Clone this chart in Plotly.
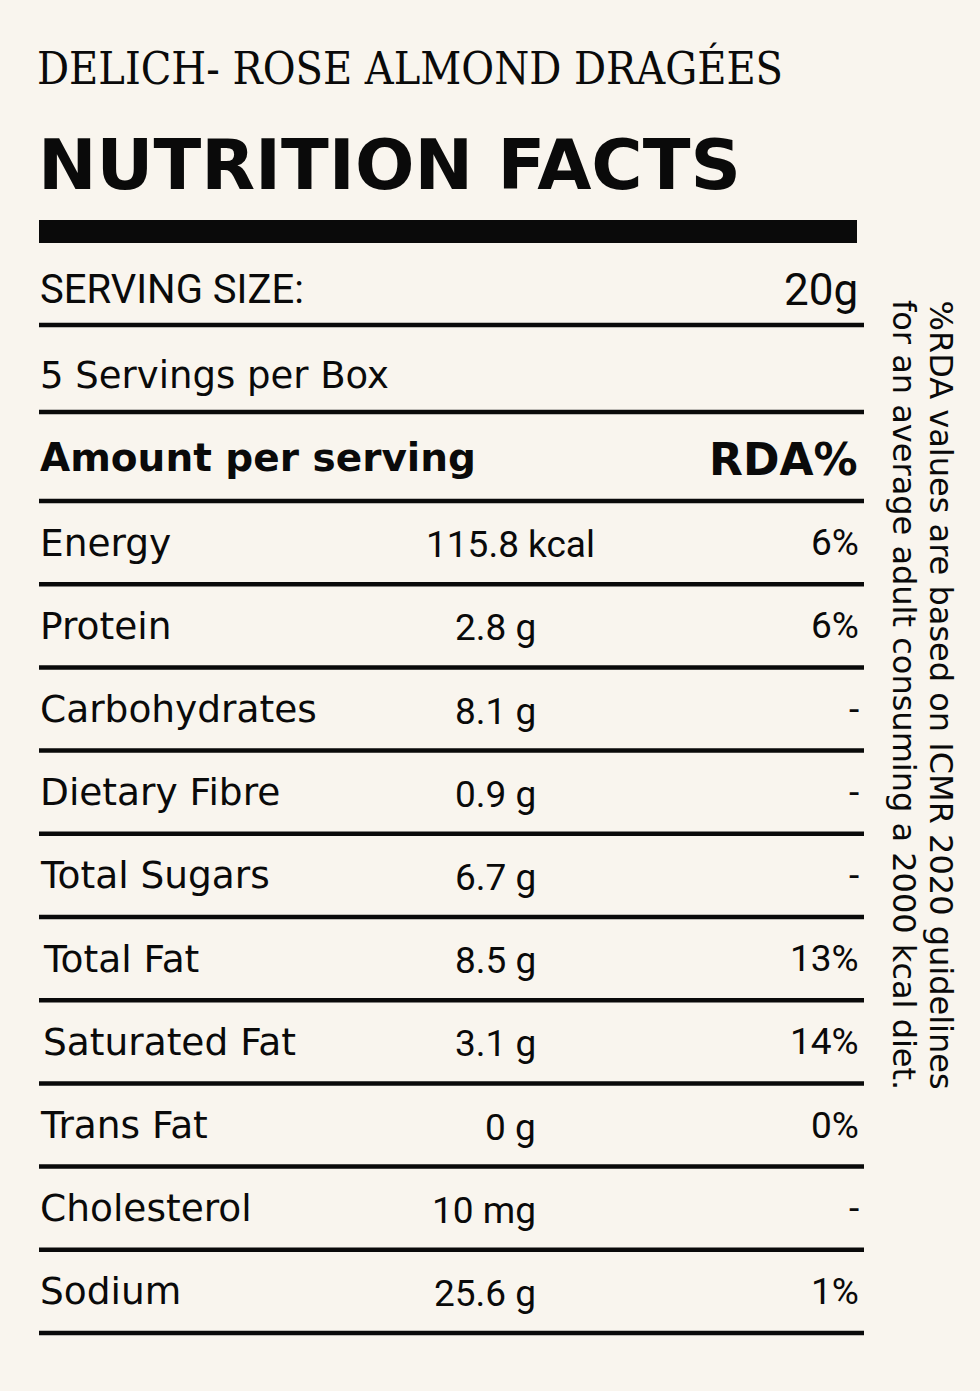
import plotly.graph_objects as go

W, H = 980, 1391
BG = "#f9f5ee"
INK = "#0a0a0a"

PRODUCT = "DELICH- ROSE ALMOND DRAGÉES"
HEADING = "NUTRITION FACTS"
SERVING_SIZE = "20g"
SERVINGS = "5 Servings per Box"

nutrients = ["Energy", "Protein", "Carbohydrates", "Dietary Fibre", "Total Sugars",
             "Total Fat", "Saturated Fat", "Trans Fat", "Cholesterol", "Sodium"]
amounts = ["115.8 kcal", "2.8 g", "8.1 g", "0.9 g", "6.7 g",
           "8.5 g", "3.1 g", "0 g", "10 mg", "25.6 g"]
rda = ["6%", "6%", "-", "-", "-", "13%", "14%", "0%", "-", "1%"]

note_lines = ["%RDA values are based on ICMR 2020 guidelines",
              "for an average adult consuming a 2000 kcal diet."]

# layout in pixel units (axes map 1:1 to the page)
LEFT, RIGHT = 40, 857
LINE_L, LINE_R = 39, 864
ROW_TOP, ROW_H = 501, 83.2
LABEL_FONT = "DejaVu Sans"
NUM_FONT = "Roboto"

fig = go.Figure()
fig.add_trace(go.Scatter(x=[0, W], y=[0, H], mode="markers",
                         marker=dict(opacity=0), hoverinfo="skip", showlegend=False))

shapes = []
def hline(y, x0=LINE_L, x1=LINE_R, w=4.5):
    shapes.append(dict(type="line", xref="x", yref="y", x0=x0, x1=x1, y0=y, y1=y,
                       line=dict(color=INK, width=w)))

# thick bar under heading
shapes.append(dict(type="rect", xref="x", yref="y", x0=39, x1=857, y0=220, y1=243,
                   fillcolor=INK, line=dict(width=0)))
hline(325)
hline(412)
hline(ROW_TOP)
for i in range(len(nutrients)):
    hline(ROW_TOP + (i + 1) * ROW_H)

ann = []
def text(x, y, s, size, anchor="left", family=LABEL_FONT, weight=400, angle=0, yanchor="middle"):
    ann.append(dict(x=x, y=y, xref="x", yref="y", text=s, showarrow=False,
                    xanchor=anchor, yanchor=yanchor, textangle=angle,
                    font=dict(family=family, size=size, color=INK, weight=weight)))

text(35, 68, PRODUCT, 44.5, family="DejaVu Serif Condensed")
text(36, 165, HEADING, 70, weight=700)
text(LEFT - 2, 289, "SERVING SIZE:", 40, family=NUM_FONT)
text(RIGHT + 3, 290, SERVING_SIZE, 44, anchor="right", family=NUM_FONT)
text(LEFT - 2, 375, SERVINGS, 37)
text(LEFT - 2, 457, "Amount per serving", 39, weight=700)
text(RIGHT + 3, 459, "RDA%", 44, anchor="right", weight=700)

value_right = {"Energy": 597}
label_left = {"Total Fat": 41, "Saturated Fat": 41}
for i, (n, a, r) in enumerate(zip(nutrients, amounts, rda)):
    yc = ROW_TOP + (i + 0.5) * ROW_H
    text(label_left.get(n, LEFT - 2), yc, n, 37.5)
    text(value_right.get(n, 538), yc + 2, a, 37, anchor="right", family=NUM_FONT)
    text(RIGHT + 4, yc, r, 37, anchor="right", family=NUM_FONT)

# rotated side note, one annotation per line so the line spacing can be set
for line, xc in zip(note_lines, [941, 904]):
    text(xc, 298, line, 32, anchor="center", angle=90, yanchor="top")

fig.update_layout(
    width=W, height=H, margin=dict(l=0, r=0, t=0, b=0),
    paper_bgcolor=BG, plot_bgcolor=BG,
    xaxis=dict(range=[0, W], visible=False, fixedrange=True),
    yaxis=dict(range=[H, 0], visible=False, fixedrange=True),
    shapes=shapes, annotations=ann, showlegend=False,
)

fig.write_html("out.html", config={"displayModeBar": False}, post_script=(
    "document.body.style.margin='0';"
    "document.body.style.background='%s';" % BG))
